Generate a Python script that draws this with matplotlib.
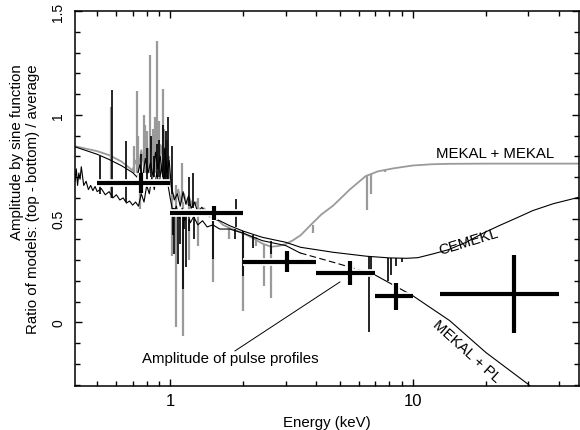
import matplotlib
matplotlib.use('Agg')
from matplotlib import pyplot as plt
from matplotlib.ticker import FixedLocator, LogLocator, MultipleLocator, NullFormatter

plt.rcParams['font.family'] = ['Liberation Sans', 'DejaVu Sans']

# MEKAL + MEKAL model ratio (grey)
gray_E = [0.40, 0.50, 0.56, 0.63, 0.70, 0.72, 0.74, 0.76, 0.78, 0.80, 0.82, 0.84, 0.86, 0.88,
          0.90, 0.92, 0.94, 0.96, 0.98, 1.00, 1.02, 1.05, 1.08, 1.11, 1.14, 1.17, 1.20, 1.24,
          1.28, 1.32, 1.38, 1.45, 1.55, 1.65, 1.80, 2.00, 2.20, 2.40, 2.60, 2.80, 3.00, 3.20,
          3.45, 3.80, 4.20, 4.70, 5.50, 6.40, 7.20, 8.30, 10.0, 12.0, 14.0, 20.0, 30.0, 50.0]
gray_y = [0.850, 0.825, 0.806, 0.775, 0.732, 0.78, 0.74, 0.83, 0.75, 0.86, 0.78, 0.88, 0.80, 0.90,
          0.78, 0.85, 0.74, 0.82, 0.72, 0.70, 0.62, 0.60, 0.64, 0.58, 0.62, 0.57, 0.60, 0.56,
          0.58, 0.54, 0.55, 0.51, 0.50, 0.47, 0.45, 0.43, 0.405, 0.38, 0.365, 0.368, 0.378, 0.395,
          0.42, 0.47, 0.52, 0.563, 0.64, 0.705, 0.728, 0.742, 0.756, 0.762, 0.764, 0.765, 0.765, 0.765]

# CEMEKL model ratio (thin black, upper)
cemekl_E = [0.40, 0.50, 0.56, 0.63, 0.70, 0.73, 0.75, 0.77, 0.79, 0.81, 0.83, 0.85, 0.87, 0.89,
            0.91, 0.93, 0.95, 0.97, 0.99, 1.01, 1.04, 1.07, 1.10, 1.13, 1.16, 1.19, 1.22, 1.26,
            1.30, 1.35, 1.42, 1.50, 1.60, 1.76, 2.00, 2.40, 3.00, 3.45, 4.70, 6.45, 8.00, 9.40,
            10.5, 12.1, 14.0, 16.6, 19.5, 22.8, 27.0, 31.3, 38.0, 50.0]
cemekl_y = [0.848, 0.81, 0.785, 0.755, 0.722, 0.70, 0.76, 0.70, 0.79, 0.72, 0.77, 0.70, 0.82, 0.74,
            0.80, 0.71, 0.84, 0.72, 0.78, 0.66, 0.59, 0.62, 0.56, 0.63, 0.57, 0.61, 0.55, 0.58,
            0.53, 0.555, 0.52, 0.50, 0.49, 0.466, 0.44, 0.41, 0.386, 0.362, 0.338, 0.319, 0.311, 0.309,
            0.312, 0.33, 0.35, 0.386, 0.43, 0.467, 0.505, 0.539, 0.572, 0.607]

# MEKAL + PL model ratio (black, lower)
pl_E = [0.40, 0.405, 0.41, 0.415, 0.42, 0.425, 0.43, 0.44, 0.45, 0.46, 0.47, 0.48, 0.49, 0.50,
        0.52, 0.54, 0.56, 0.58, 0.60, 0.62, 0.64, 0.66, 0.68, 0.70, 0.72, 0.74, 0.76, 0.78,
        0.80, 0.82, 0.84, 0.86, 0.88, 0.90, 0.92, 0.94, 0.96, 0.98, 1.00, 1.03, 1.06, 1.09,
        1.12, 1.15, 1.18, 1.21, 1.25, 1.30, 1.36, 1.42, 1.50, 1.60, 1.76, 2.00, 2.40, 3.00,
        3.43, 4.70, 6.86, 10.0, 14.2, 20.0, 29.8, 35.0]
pl_y = [0.72, 0.68, 0.74, 0.66, 0.72, 0.69, 0.75, 0.66, 0.68, 0.64, 0.66, 0.635, 0.655, 0.63,
        0.645, 0.615, 0.63, 0.60, 0.615, 0.59, 0.60, 0.575, 0.585, 0.565, 0.58, 0.56, 0.62, 0.58,
        0.66, 0.62, 0.70, 0.64, 0.72, 0.66, 0.75, 0.68, 0.78, 0.66, 0.60, 0.52, 0.56, 0.50,
        0.55, 0.49, 0.53, 0.48, 0.51, 0.47, 0.49, 0.46, 0.47, 0.45, 0.45, 0.43, 0.394, 0.37,
        0.335, 0.29, 0.234, 0.129, 0.009, -0.144, -0.296, -0.37]
pl_dash_from, pl_dash_to = 3.43, 6.86

# emission / absorption lines drawn as vertical strokes
gray_line_E = [0.570, 0.710, 0.730, 0.740, 0.777, 0.790, 0.800, 0.810, 0.827, 0.850, 0.868, 0.882,
               0.900, 0.910, 0.930, 0.940, 0.955, 0.970, 0.990, 1.060, 1.120, 1.300,
               0.750, 1.020, 1.055, 1.128, 1.200, 1.300, 1.500, 1.750, 2.000, 2.250, 2.440,
               2.600, 3.870, 6.450, 6.750, 7.700]
gray_line_lo = [0.60, 0.72, 0.72, 0.72, 0.72, 0.72, 0.72, 0.72, 0.72, 0.72, 0.72, 0.74,
                0.72, 0.72, 0.72, 0.70, 0.72, 0.70, 0.66, 0.58, 0.58, 0.54,
                0.547, 0.32, -0.023, -0.063, 0.30, 0.37, 0.194, 0.40, 0.057, 0.37, 0.177,
                0.12, 0.43, 0.54, 0.62, 0.725]
gray_line_hi = [1.04, 0.85, 1.117, 0.90, 0.997, 0.95, 0.92, 0.84, 1.286, 0.93, 0.99, 1.358,
                0.97, 0.86, 1.125, 0.93, 0.88, 0.88, 0.80, 0.66, 0.77, 0.60,
                0.66, 0.62, 0.60, 0.58, 0.57, 0.53, 0.49, 0.46, 0.44, 0.41, 0.38,
                0.37, 0.47, 0.705, 0.715, 0.735]

black_line_E = [0.512, 0.576, 0.657, 0.760, 0.800, 0.835, 0.860, 0.880, 0.900, 0.930, 0.950, 0.960,
                0.978, 1.016, 1.190, 1.240, 1.860,
                1.030, 1.040, 1.080, 1.100, 1.128, 1.140, 1.164, 1.190, 1.250, 1.500, 1.850, 2.000,
                2.200, 2.600, 6.600, 6.700, 7.900, 8.100, 8.500, 9.000]
black_line_lo = [0.62, 0.60, 0.58, 0.66, 0.68, 0.70, 0.70, 0.70, 0.70, 0.70, 0.68, 0.68,
                 0.68, 0.62, 0.56, 0.55, 0.46,
                 0.42, 0.33, 0.28, 0.38, 0.16, 0.45, 0.267, 0.44, 0.40, 0.306, 0.40, 0.226,
                 0.36, 0.33, -0.046, 0.22, 0.20, 0.23, 0.27, 0.29]
black_line_hi = [0.80, 1.12, 0.876, 0.81, 0.84, 0.90, 0.80, 0.86, 0.88, 0.95, 0.80, 0.92,
                 0.99, 0.85, 0.70, 0.72, 0.595,
                 0.55, 0.55, 0.53, 0.52, 0.52, 0.52, 0.52, 0.50, 0.51, 0.49, 0.45, 0.44,
                 0.42, 0.39, 0.32, 0.32, 0.31, 0.31, 0.31, 0.31]

# pulse-profile amplitudes per energy band
band_E = [0.76, 1.52, 3.02, 5.5, 8.5, 26.1]
band_lo = [0.50, 1.0, 2.0, 4.0, 7.0, 13.0]
band_hi = [1.0, 2.0, 4.0, 7.0, 10.0, 40.0]
band_amp = [0.672, 0.528, 0.293, 0.239, 0.126, 0.137]
band_err = [0.05, 0.035, 0.05, 0.058, 0.065, 0.19]

GREY = '#9a9a9a'

fig = plt.figure(figsize=(5.8, 4.31), dpi=100)
ax = fig.add_axes([0.1293, 0.1021, 0.8690, 0.870])
ax.set_xscale('log')

ax.plot(gray_E, gray_y, color=GREY, lw=1.3)
ax.vlines(gray_line_E, gray_line_lo, gray_line_hi, color=GREY, lw=1.6)

ax.plot(cemekl_E, cemekl_y, color='black', lw=0.8)
i0, i1 = pl_E.index(pl_dash_from), pl_E.index(pl_dash_to)
ax.plot(pl_E[:i0 + 1], pl_y[:i0 + 1], color='black', lw=0.8)
ax.plot(pl_E[i0:i1 + 1], pl_y[i0:i1 + 1], color='black', lw=0.8, dashes=(6, 3))
ax.plot(pl_E[i1:], pl_y[i1:], color='black', lw=0.8)
ax.vlines(black_line_E, black_line_lo, black_line_hi, color='black', lw=1.2)

# crosses with a white rim
amp_lo = [a - e for a, e in zip(band_amp, band_err)]
amp_hi = [a + e for a, e in zip(band_amp, band_err)]
for lw, col in ((5.5, 'white'), (3.0, 'black')):
    ax.hlines(band_amp, band_lo, band_hi, color=col, lw=lw, capstyle='butt')
    ax.vlines(band_E, amp_lo, amp_hi, color=col, lw=lw, capstyle='butt')

fs = 10.8
ax.text(21.8, 0.817, 'MEKAL + MEKAL', fontsize=fs, ha='center', va='center')
ax.text(17.0, 0.393, 'CEMEKL', fontsize=fs, ha='center', va='center', rotation=17)
ax.text(16.7, -0.137, 'MEKAL + PL', fontsize=fs, ha='center', va='center', rotation=-42)
ax.text(1.77, -0.171, 'Amplitude of pulse profiles', fontsize=fs, ha='center', va='center')
ax.plot([1.85, 5.01], [-0.137, 0.195], color='black', lw=0.7)

ax.set_xlim(0.405, 48.5)
ax.set_ylim(-0.306, 1.5)

ax.xaxis.set_major_locator(FixedLocator([1, 10]))
ax.set_xticklabels(['1', '10'])
ax.xaxis.set_minor_locator(LogLocator(base=10, subs=range(2, 10)))
ax.xaxis.set_minor_formatter(NullFormatter())
ax.yaxis.set_major_locator(FixedLocator([0, 0.5, 1, 1.5]))
ax.set_yticklabels(['0', '0.5', '1', '1.5'], rotation=90, va='center')
ax.yaxis.set_minor_locator(MultipleLocator(0.1))
ax.tick_params(which='both', direction='in', top=True, right=True, width=1)
ax.tick_params(axis='x', labelsize=12, pad=5)
ax.tick_params(axis='y', labelsize=10, pad=7)
ax.tick_params(which='major', length=5)
ax.tick_params(which='minor', length=3.5)
for side in ax.spines.values():
    side.set_linewidth(1.1)

ax.set_xlabel('Energy (keV)', fontsize=fs, labelpad=5)
ax.set_ylabel('Amplitude by sine function\nRatio of models: (top - bottom) / average',
              fontsize=fs, multialignment='right', labelpad=8)

fig.savefig('out.png', dpi=100)
